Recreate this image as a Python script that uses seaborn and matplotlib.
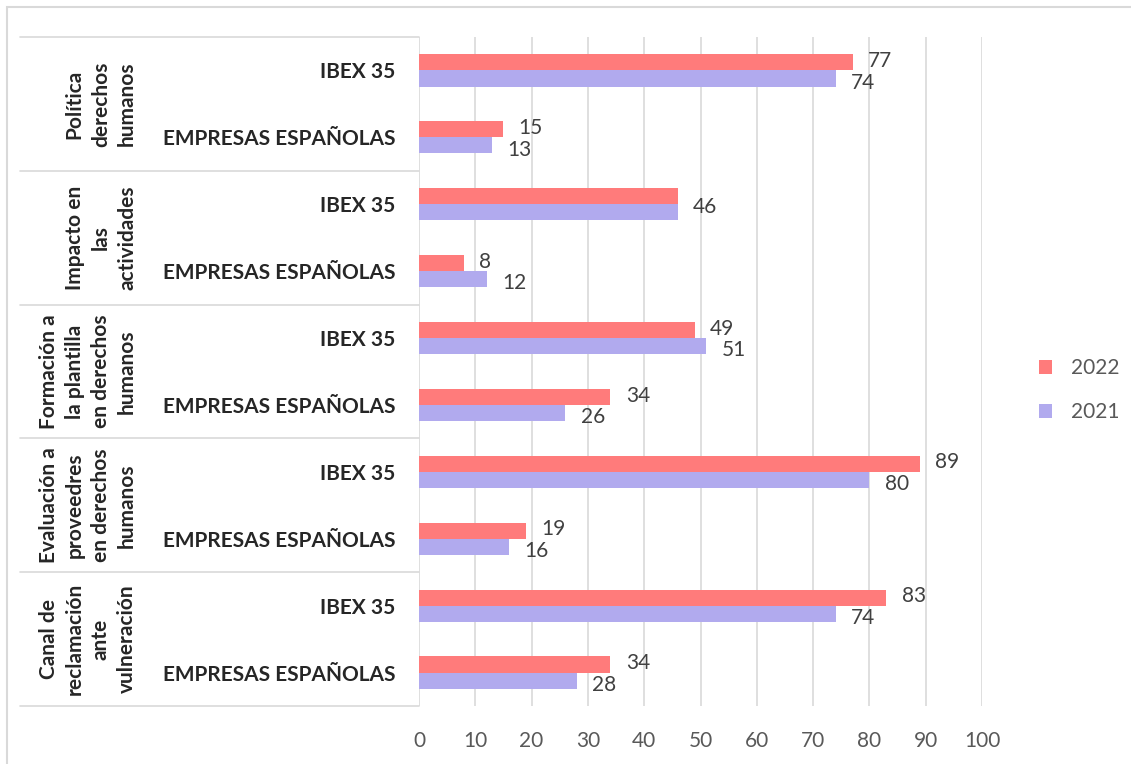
import pandas as pd
import seaborn as sns
import matplotlib.pyplot as plt
from matplotlib.patches import Rectangle

# === Data ===
grupos = [
    "Política\nderechos\nhumanos",
    "Impacto en\nlas\nactividades",
    "Formación a\nla plantilla\nen derechos\nhumanos",
    "Evaluación a\nproveedres\nen derechos\nhumanos",
    "Canal de\nreclamación\nante\nvulneración",
]
subgrupos = ["IBEX 35", "EMPRESAS ESPAÑOLAS"]
anios = ["2022", "2021"]
valores_2022 = [77, 15, 46, 8, 49, 34, 89, 19, 83, 34]
valores_2021 = [74, 13, 46, 12, 51, 26, 80, 16, 74, 28]

ROJO = "#FF7B7B"
LILA = "#B1AAEE"

# === Long table for seaborn ===
filas = [f"{g}|{s}" for g in grupos for s in subgrupos]
df = pd.DataFrame({
    "fila": filas * 2,
    "año": [anios[0]] * len(filas) + [anios[1]] * len(filas),
    "valor": valores_2022 + valores_2021,
})

sns.set_style("white")
plt.rcParams["font.family"] = ["Lato", "DejaVu Sans"]

W, H = 1131, 764
fig = plt.figure(figsize=(W / 100, H / 100), dpi=100)
x0, x1, y0, y1 = 419, 982, 37, 706
ax = fig.add_axes([x0 / W, 1 - y1 / H, (x1 - x0) / W, (y1 - y0) / H])

sns.barplot(
    data=df, x="valor", y="fila", hue="año", hue_order=anios,
    palette=[ROJO, LILA], orient="h", width=0.48, saturation=1,
    linewidth=0, ax=ax,
)

# === Axes styling ===
ax.set_xlim(0, 100)
ax.set_ylim(len(filas) - 0.5, -0.5)
ax.set_xticks(range(0, 101, 10))
ax.xaxis.grid(True, color="#D9D9D9", lw=1.2)
ax.yaxis.grid(False)
ax.set_axisbelow(True)
for s in ax.spines.values():
    s.set_visible(False)
ax.set_xlabel("")
ax.set_ylabel("")
ax.tick_params(axis="x", length=0, pad=18, labelsize=15, labelcolor="#595959")
ax.set_yticks(range(len(filas)))
ax.set_yticklabels([f.split("|")[1] for f in filas], fontweight="bold", fontsize=15)
ax.tick_params(axis="y", length=0, pad=17)

# === Value labels ===
c22, c21 = ax.containers[0], ax.containers[1]
for b22, b21, v22, v21 in zip(c22, c21, valores_2022, valores_2021):
    if v22 == v21:
        ax.annotate(str(v22), (b22.get_width(), b22.get_y() + b22.get_height()),
                    xytext=(11, -2), textcoords="offset points",
                    ha="left", va="center", fontsize=15, color="#404040")
        continue
    for b, v, dy in [(b22, v22, 1), (b21, v21, -3)]:
        ax.annotate(str(v), (b.get_width(), b.get_y() + b.get_height() / 2),
                    xytext=(11, dy), textcoords="offset points",
                    ha="left", va="center", fontsize=15, color="#404040")

# === Two-level category axis ===
tr = ax.get_yaxis_transform()
sep_x = (20 - x0) / (x1 - x0)
for k in range(len(grupos) + 1):
    yb = 2 * k - 0.5
    ax.plot([sep_x, 0], [yb, yb], transform=tr, color="#D9D9D9", lw=1.2, clip_on=False)
for k, g in enumerate(grupos):
    ax.text((137 - x0) / (x1 - x0), 2 * k + 0.5, g, transform=tr, rotation=90,
            ha="right", va="center", multialignment="center",
            fontweight="bold", fontsize=15, linespacing=1.38)

# === Legend ===
handles, labels = ax.get_legend_handles_labels()
ax.legend(handles, labels, loc="center left", bbox_to_anchor=(1020 / W, 1 - 390 / H),
          bbox_transform=fig.transFigure, frameon=False, fontsize=15,
          handlelength=0.65, handleheight=0.65, handletextpad=0.9, labelspacing=1.15,
          labelcolor="#595959")

# === Outer chart border ===
fig.patches.append(Rectangle((7 / W, -0.05), 1.1, 1 - 7 / H + 0.05,
                             transform=fig.transFigure, fill=False,
                             edgecolor="#D9D9D9", lw=1.5))

fig.savefig("out.png", dpi=100)
